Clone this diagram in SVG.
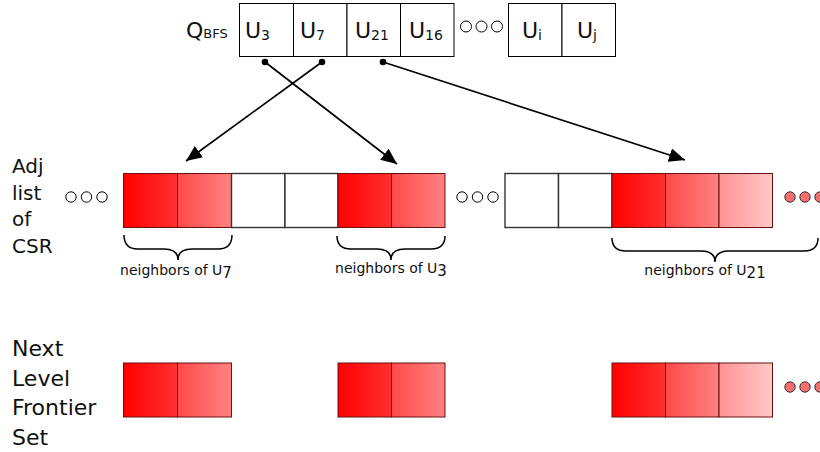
<svg xmlns="http://www.w3.org/2000/svg" width="820" height="452" viewBox="0 0 820 452">
  <defs>
    <linearGradient id="g1" x1="0" y1="0" x2="1" y2="0">
      <stop offset="0" stop-color="#ff0000"/>
      <stop offset="1" stop-color="#ff3030"/>
    </linearGradient>
    <linearGradient id="g2" x1="0" y1="0" x2="1" y2="0">
      <stop offset="0" stop-color="#ff4a4a"/>
      <stop offset="1" stop-color="#ff8282"/>
    </linearGradient>
    <linearGradient id="g3" x1="0" y1="0" x2="1" y2="0">
      <stop offset="0" stop-color="#ff9494"/>
      <stop offset="1" stop-color="#ffc8c8"/>
    </linearGradient>
    <marker id="head" markerUnits="userSpaceOnUse" markerWidth="17" markerHeight="14" refX="16" refY="7" orient="auto">
      <path d="M0,0 L16,7 L0,14 z" fill="#000"/>
    </marker>
  </defs>
  <style>
    text { font-family: "DejaVu Sans", "Liberation Sans", sans-serif; fill: #111; }
    .big { font-size: 20px; }
    .qt { font-size: 22px; }
    .lbl { font-size: 14px; }
    .q { fill: #fff; stroke: #000; stroke-width: 1; }
    .w { fill: #fff; stroke: #333; stroke-width: 1.4; }
    .r { stroke: #6a1010; stroke-width: 1; }
    .ring { fill: #fff; stroke: #000; stroke-width: 1; }
    .dotr { fill: #f47070; stroke: #333; stroke-width: 1; }
    .brace { fill: none; stroke: #000; stroke-width: 1.5; }
    .edge { stroke: #000; stroke-width: 1.7; fill: none; marker-end: url(#head); }
  </style>

  <!-- BFS queue -->
  <g id="queue">
    <text class="qt" x="186" y="38">Q<tspan font-size="13">BFS</tspan></text>
    <rect class="q" x="239.5" y="3.5" width="54" height="53"/>
    <rect class="q" x="293.5" y="3.5" width="53.5" height="53"/>
    <rect class="q" x="347" y="3.5" width="53.5" height="53"/>
    <rect class="q" x="400.5" y="3.5" width="53.5" height="53"/>
    <circle class="ring" cx="466" cy="26.5" r="5.5"/>
    <circle class="ring" cx="481.5" cy="26.5" r="5.5"/>
    <circle class="ring" cx="497" cy="26.5" r="5.5"/>
    <rect class="q" x="508.5" y="3.5" width="53.5" height="53"/>
    <rect class="q" x="562" y="3.5" width="53.5" height="53"/>
    <text class="qt" x="245" y="38">U<tspan font-size="14" dy="2">3</tspan></text>
    <text class="qt" x="300" y="38">U<tspan font-size="14" dy="2">7</tspan></text>
    <text class="qt" x="355" y="38">U<tspan font-size="14" dy="2">21</tspan></text>
    <text class="qt" x="409" y="38">U<tspan font-size="14" dy="2">16</tspan></text>
    <text class="qt" x="522" y="38">U<tspan font-size="14" dy="2">i</tspan></text>
    <text class="qt" x="577" y="38">U<tspan font-size="14" dy="2">j</tspan></text>
  </g>

  <!-- row labels -->
  <g id="csr-label">
    <text class="big" x="12" y="173">Adj</text>
    <text class="big" x="12" y="199.5">list</text>
    <text class="big" x="12" y="226">of</text>
    <text class="big" x="12" y="253">CSR</text>
  </g>
  <g id="frontier-label">
    <text x="12" y="356" font-size="22">Next</text>
    <text x="12" y="385.5" font-size="22">Level</text>
    <text x="12" y="415" font-size="22">Frontier</text>
    <text x="12" y="444.5" font-size="22">Set</text>
  </g>

  <!-- adjacency list (CSR) -->
  <g id="csr">
    <circle class="ring" cx="71" cy="197" r="5.2"/>
    <circle class="ring" cx="86.5" cy="197" r="5.2"/>
    <circle class="ring" cx="102" cy="197" r="5.2"/>
    <rect class="r" x="123.5" y="173.5" width="54" height="54" fill="url(#g1)"/>
    <rect class="r" x="177.5" y="173.5" width="54" height="54" fill="url(#g2)"/>
    <rect class="w" x="231.5" y="173.5" width="53.5" height="54"/>
    <rect class="w" x="285" y="173.5" width="53" height="54"/>
    <rect class="r" x="338" y="173.5" width="53.5" height="54" fill="url(#g1)"/>
    <rect class="r" x="391.5" y="173.5" width="53.5" height="54" fill="url(#g2)"/>
    <circle class="ring" cx="462" cy="197" r="5.2"/>
    <circle class="ring" cx="477.5" cy="197" r="5.2"/>
    <circle class="ring" cx="493" cy="197" r="5.2"/>
    <rect class="w" x="505" y="173.5" width="53.5" height="54"/>
    <rect class="w" x="558.5" y="173.5" width="53.5" height="54"/>
    <rect class="r" x="612" y="173.5" width="53.5" height="54" fill="url(#g1)"/>
    <rect class="r" x="665.5" y="173.5" width="53.5" height="54" fill="url(#g2)"/>
    <rect class="r" x="719" y="173.5" width="53.5" height="54" fill="url(#g3)"/>
    <circle class="dotr" cx="790" cy="197" r="5.2"/>
    <circle class="dotr" cx="805" cy="197" r="5.2"/>
    <circle class="dotr" cx="820" cy="197" r="5.2"/>
  </g>

  <!-- neighbor ranges -->
  <g id="range-u7">
    <path class="brace" d="M124,235 Q124,249 138,249 L164,249 Q178,249 178,260 Q178,249 192,249 L218,249 Q232,249 232,235"/>
    <text class="lbl" x="176" y="275" text-anchor="middle">neighbors of U<tspan font-size="15" dy="3">7</tspan></text>
  </g>
  <g id="range-u3">
    <path class="brace" d="M337,236 Q337,249 351,249 L377,249 Q391,249 391,260 Q391,249 405,249 L431,249 Q445,249 445,236"/>
    <text class="lbl" x="391" y="273" text-anchor="middle">neighbors of U<tspan font-size="15" dy="3">3</tspan></text>
  </g>
  <g id="range-u21">
    <path class="brace" d="M612,238 Q612,251 626,251 L701,251 Q715,251 715,262 Q715,251 729,251 L804,251 Q818,251 818,238"/>
    <text class="lbl" x="705" y="275" text-anchor="middle">neighbors of U<tspan font-size="15" dy="3">21</tspan></text>
  </g>

  <!-- next level frontier -->
  <g id="frontier">
    <rect class="r" x="123.5" y="363" width="54" height="54" fill="url(#g1)"/>
    <rect class="r" x="177.5" y="363" width="54" height="54" fill="url(#g2)"/>
    <rect class="r" x="338" y="363" width="53.5" height="54" fill="url(#g1)"/>
    <rect class="r" x="391.5" y="363" width="53.5" height="54" fill="url(#g2)"/>
    <rect class="r" x="612" y="363" width="53.5" height="54" fill="url(#g1)"/>
    <rect class="r" x="665.5" y="363" width="53.5" height="54" fill="url(#g2)"/>
    <rect class="r" x="719" y="363" width="53.5" height="54" fill="url(#g3)"/>
    <circle class="dotr" cx="790" cy="387" r="5.2"/>
    <circle class="dotr" cx="805" cy="387" r="5.2"/>
    <circle class="dotr" cx="820" cy="387" r="5.2"/>
  </g>

  <!-- queue entries pointing at their adjacency ranges -->
  <g id="connectors">
    <circle cx="265" cy="62" r="3.3" fill="#000"/>
    <circle cx="322" cy="62" r="3.3" fill="#000"/>
    <circle cx="383" cy="62" r="3.3" fill="#000"/>
    <line class="edge" x1="265" y1="62" x2="397" y2="164"/>
    <line class="edge" x1="322" y1="62" x2="186" y2="161"/>
    <line class="edge" x1="383" y1="62" x2="685" y2="160"/>
  </g>
</svg>
